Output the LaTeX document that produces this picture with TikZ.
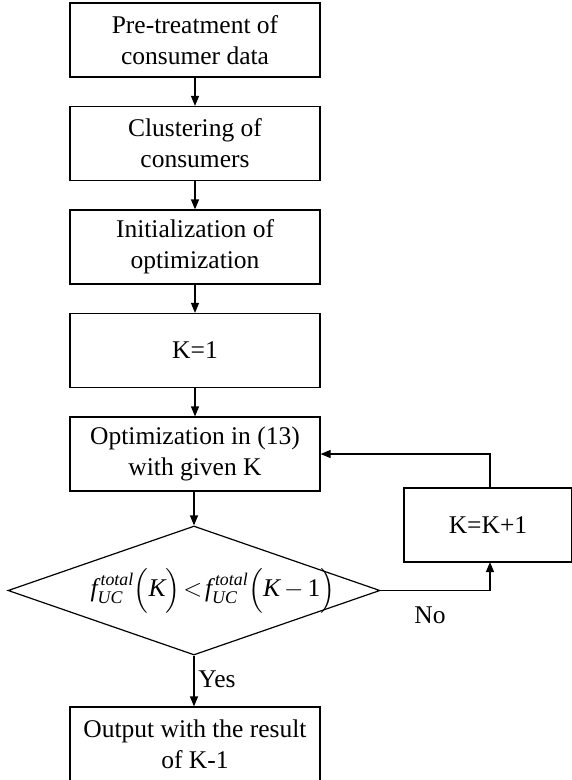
\documentclass[tikz,border=0pt]{standalone}
\usepackage{amsmath}
\usepackage{fontspec}
\setmainfont{Liberation Serif}
\usetikzlibrary{shapes.geometric,arrows.meta}
\begin{document}
\begin{tikzpicture}[x=1pt,y=-1pt,
  box/.style={draw,line width=1.2pt,minimum width=250pt,minimum height=74pt,inner sep=0pt,align=center,font=\fontsize{25.5}{31}\selectfont},
  dec/.style={draw,line width=1.2pt,diamond,aspect=2.88,minimum width=372pt,minimum height=129pt,inner sep=0pt},
  arr/.style={line width=1.2pt,-{Triangle[length=10pt,width=8pt]}},
  lbl/.style={font=\fontsize{25.5}{31}\selectfont,inner sep=0pt}]
\useasboundingbox (0,0) rectangle (571,780);
\node[box] (b1) at (195,40) {Pre-treatment of\\consumer data};
\node[box] (b2) at (195,143.5) {Clustering of\\consumers};
\node[box] (b3) at (195,247) {Initialization of\\optimization};
\node[box] (b4) at (195,350.5) {K=1};
\node[box] (b5) at (195,454) {Optimization in (13)\\with given K};
\node[dec] (d) at (194,590.5) {};
\node[lbl] (dt) at (213,590.5) {$\textit{f}^{\,\textit{total}}_{\textit{UC}}\Bigl(\textit{K}\Bigr)\!<\!\textit{f}^{\,\textit{total}}_{\textit{UC}}\Bigl(\textit{K}\,{-}\,\textrm{1}\Bigr)$};
\node[box,minimum width=168pt] (kk) at (488,525) {K=K+1};
\node[box] (out) at (195,744) {Output with the result\\of K-1};
\draw[arr] (b1) -- (b2);
\draw[arr] (b2) -- (b3);
\draw[arr] (b3) -- (b4);
\draw[arr] (b4) -- (b5);
\draw[arr] (b5.south -| d.north) -- (d.north);
\draw[arr] (d.south) -- (d.south |- out.north);
\coordinate (kt) at (490,488);
\coordinate (kb) at (490,562);
\draw[arr] (kt) -- (490,454) -- (b5.east);
\draw[arr] (d.east) -- (490,590.5) -- (kb);
\node[lbl] (no) at (430,615) {No};
\node[lbl] (yes) at (217,679) {Yes};
\end{tikzpicture}
\end{document}
